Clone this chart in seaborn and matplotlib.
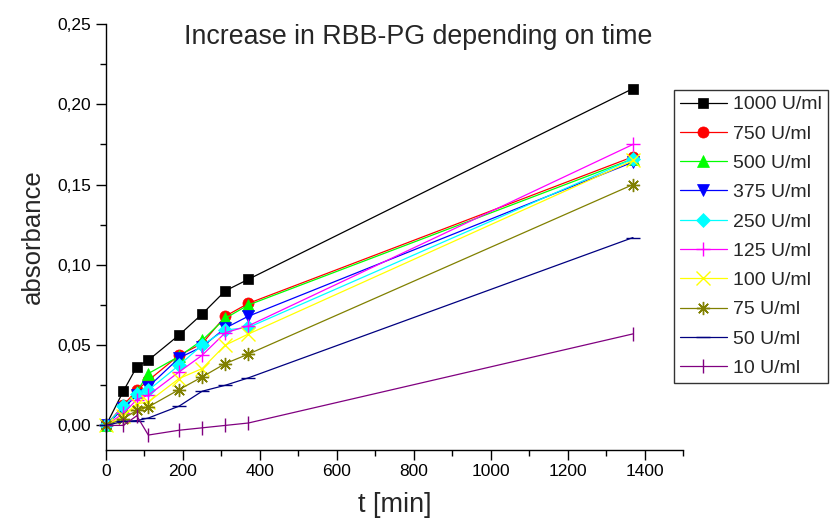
import matplotlib
matplotlib.use("Agg")
import matplotlib.pyplot as plt
import seaborn as sns
import pandas as pd
from matplotlib.ticker import MultipleLocator, FuncFormatter

# ---- data ----
times = [0, 45, 80, 110, 190, 250, 310, 370, 1370]
labels = ["1000 U/ml", "750 U/ml", "500 U/ml", "375 U/ml", "250 U/ml",
          "125 U/ml", "100 U/ml", "75 U/ml", "50 U/ml", "10 U/ml"]
a1000 = [0.0, 0.0213, 0.0365, 0.0406, 0.0563, 0.0694, 0.0838, 0.0910, 0.2098]
a750 = [0.0, 0.0125, 0.0219, 0.0280, 0.0437, 0.0510, 0.0680, 0.0760, 0.1673]
a500 = [0.0, 0.0110, 0.0210, 0.0323, 0.0430, 0.0530, 0.0667, 0.0750, 0.1660]
a375 = [0.0, 0.0106, 0.0188, 0.0240, 0.0420, 0.0490, 0.0606, 0.0680, 0.1640]
a250 = [0.0, 0.0119, 0.0198, 0.0219, 0.0375, 0.0500, 0.0594, 0.0610, 0.1660]
a125 = [0.0, 0.0075, 0.0160, 0.0188, 0.0333, 0.0437, 0.0577, 0.0620, 0.1750]
a100 = [0.0, 0.0060, 0.0135, 0.0146, 0.0292, 0.0354, 0.0500, 0.0569, 0.1650]
a75 = [0.0, 0.0042, 0.0094, 0.0115, 0.0223, 0.0302, 0.0385, 0.0444, 0.1500]
a50 = [0.0, 0.0025, 0.0030, 0.0046, 0.0120, 0.0213, 0.0250, 0.0296, 0.1170]
a10 = [0.0, 0.0000, 0.0060, -0.0060, -0.0030, -0.0015, 0.0000, 0.0015, 0.0570]
series = [a1000, a750, a500, a375, a250, a125, a100, a75, a50, a10]

colors = ["#000000", "#FF0000", "#00FF00", "#0000FF", "#00FFFF",
          "#FF00FF", "#FFFF00", "#808000", "#000080", "#800080"]
markers = ["s", "o", "^", "v", "D", "+", "x", (8, 2, 0), "_", "|"]
msizes = [7.5, 8, 8, 8, 7.5, 9.5, 9.5, 9.5, 10, 9.5]

rows = []
for lab, vals in zip(labels, series):
    for t, v in zip(times, vals):
        rows.append({"t": t, "absorbance": v, "conc": lab})
df = pd.DataFrame(rows)

sns.set_theme(style="ticks")
plt.rcParams["font.family"] = ["Liberation Sans", "DejaVu Sans"]

fig = plt.figure(figsize=(8.31, 5.19), dpi=100)
ax = fig.add_axes([106 / 831, 1 - 449.5 / 519, (683 - 106) / 831, (449.5 - 24) / 519])

for lab, c, m, ms in zip(labels, colors, markers, msizes):
    sub = df[df["conc"] == lab]
    sns.lineplot(data=sub, x="t", y="absorbance", ax=ax, color=c, marker=m,
                 markersize=ms, markeredgecolor=c, markerfacecolor=c,
                 markeredgewidth=1.0 if m in ("+", "x", (8, 2, 0), "_", "|") else 0.5,
                 linewidth=0.9, label=lab, clip_on=False, sort=False,
                 estimator=None)

ax.set_xlim(0, 1500)
ax.set_ylim(-0.015, 0.25)
ax.xaxis.set_major_locator(MultipleLocator(200))
ax.xaxis.set_minor_locator(MultipleLocator(100))
ax.yaxis.set_major_locator(MultipleLocator(0.05))
ax.yaxis.set_minor_locator(MultipleLocator(0.025))
ax.yaxis.set_major_formatter(FuncFormatter(lambda v, p: f"{v:.2f}".replace(".", ",")))
ax.xaxis.set_major_formatter(FuncFormatter(lambda v, p: f"{v:.0f}"))
ax.tick_params(axis="both", which="major", length=7, width=1.0, labelsize=12.5,
               direction="out", color="black", labelcolor="black")
ax.tick_params(axis="both", which="minor", length=4, width=1.0, direction="out",
               color="black")
for s in ["top", "right"]:
    ax.spines[s].set_visible(False)
for s in ["left", "bottom"]:
    ax.spines[s].set_linewidth(1.0)
    ax.spines[s].set_color("black")

ax.set_xlabel("t [min]", fontsize=19.5, labelpad=9)
ax.set_ylabel("absorbance", fontsize=18.5, labelpad=9)
fig.text(418 / 831, 1 - 37 / 519, "Increase in RBB-PG depending on time",
         fontsize=19.3, ha="center", va="center")

leg = ax.legend(loc="upper left", bbox_to_anchor=(674 / 831, 1 - 90 / 519),
                bbox_transform=fig.transFigure, frameon=True, fancybox=False,
                fontsize=14, handlelength=2.4, handletextpad=0.35,
                labelspacing=0.6, borderpad=0.3, borderaxespad=0)
leg.get_frame().set_edgecolor("black")
leg.get_frame().set_linewidth(1.0)

fig.savefig("out.png", dpi=100)
